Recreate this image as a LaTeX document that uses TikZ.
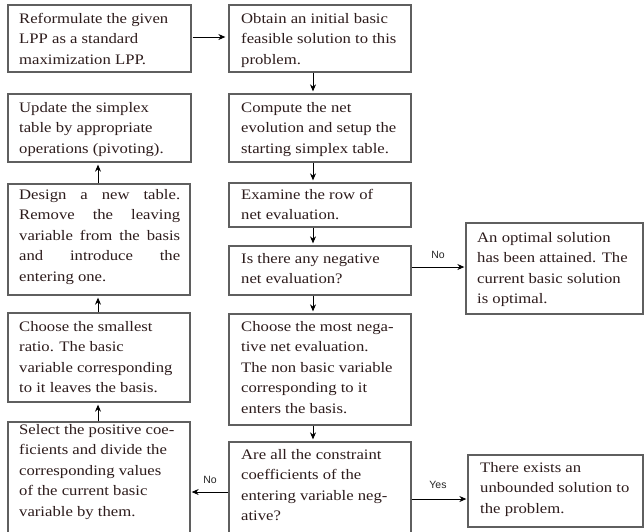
\documentclass[tikz,border=0pt]{standalone}
\usepackage{fontspec}
\setmainfont{Liberation Serif}[FakeStretch=1.15]
\newfontfamily\lblfont{Liberation Sans}
\usetikzlibrary{arrows.meta}
\definecolor{txtc}{RGB}{45,28,28}
\definecolor{boxc}{RGB}{95,95,95}
\newcommand\myjust[1]{\makebox[161pt][s]{#1}}
\newcommand\firstl{\rule{0pt}{14pt}}
\begin{document}
\begin{tikzpicture}[x=1pt,y=-1pt,
  box/.style={draw=boxc, line width=1.3pt, rectangle, inner sep=0pt},
  txt/.style={anchor=north west, inner sep=0pt, align=left, text=txtc, font=\fontsize{14.5}{20.5}\selectfont},
  arr/.style={-{Stealth[length=7pt,width=6pt]}, line width=1pt, black},
  lbl/.style={font=\lblfont\fontsize{10.5}{12}\selectfont, text=black!85}]
\useasboundingbox[fill=white] (0,0) rectangle (644,531);
% boxes
\node[box, minimum width=183pt, minimum height=67pt] (l1) at (99.5,38.5) {};
\node[box, minimum width=183pt, minimum height=68pt] (l2) at (99.5,128) {};
\node[box, minimum width=182pt, minimum height=111pt] (l3) at (99,239.5) {};
\node[box, minimum width=182pt, minimum height=89pt] (l4) at (99,357.5) {};
\node[box, minimum width=182pt, minimum height=123pt] (l5) at (99,483.5) {};
\node[box, minimum width=182pt, minimum height=67pt] (r1) at (320,38.5) {};
\node[box, minimum width=182pt, minimum height=68pt] (r2) at (320,128) {};
\node[box, minimum width=182pt, minimum height=44pt] (r3) at (320,205) {};
\node[box, minimum width=182pt, minimum height=49pt] (r4) at (320,270.5) {};
\node[box, minimum width=182pt, minimum height=111pt] (r5) at (320,369.5) {};
\node[box, minimum width=182pt, minimum height=103pt] (r6) at (320,493.5) {};
\node[box, minimum width=177pt, minimum height=91pt] (o1) at (554.5,268.5) {};
\node[box, minimum width=175pt, minimum height=72pt] (o2) at (555.5,491) {};
% texts
\node[txt] (l1t) at (19,9) {\firstl Reformulate the given\\LPP as a standard\\maximization LPP.};
\node[txt] (l2t) at (19,98) {\firstl Update the simplex\\table by appropriate\\operations (pivoting).};
\node[txt] (l3t) at (19,185) {\firstl\myjust{Design a new table.}\\\myjust{Remove the leaving}\\\myjust{variable from the basis}\\\myjust{and introduce the}\\entering one.};
\node[txt] (l4t) at (19,317) {\firstl Choose the smallest\\ratio. The basic\\variable corresponding\\to it leaves the basis.};
\node[txt] (l5t) at (19,420) {\firstl Select the positive coe-\\ficients and divide the\\corresponding values\\of the current basic\\variable by them.};
\node[txt] (r1t) at (241,9) {\firstl Obtain an initial basic\\feasible solution to this\\problem.};
\node[txt] (r2t) at (241,98) {\firstl Compute the net\\evolution and setup the\\starting simplex table.};
\node[txt] (r3t) at (241,185) {\firstl Examine the row of\\net evaluation.};
\node[txt] (r4t) at (241,249) {\firstl Is there any negative\\net evaluation?};
\node[txt] (r5t) at (241,317) {\firstl Choose the most nega-\\tive net evaluation.\\The non basic variable\\corresponding to it\\enters the basis.};
\node[txt] (r6t) at (241,445) {\firstl Are all the constraint\\coefficients of the\\entering variable neg-\\ative?};
\node[txt] (o1t) at (477,228) {\firstl An optimal solution\\has been attained. The\\current basic solution\\is optimal.};
\node[txt] (o2t) at (480,458) {\firstl There exists an\\unbounded solution to\\the problem.};
% labels
\node[lbl] (no1) at (438,255) {No};
\node[lbl] (yes) at (438,485) {Yes};
\node[lbl] (no2) at (210,480) {No};
% connectors
\coordinate (rc) at (313,0);
\coordinate (lc) at (98,0);
\coordinate (y1) at (0,37);
\coordinate (y2) at (0,267);
\coordinate (y3) at (0,499);
\coordinate (y4) at (0,492);
\draw[arr, shorten <=1pt, shorten >=3pt] (l1.east |- y1) -- (r1.west |- y1);
\draw[arr, shorten >=2pt] (r1.south -| rc) -- (r2.north -| rc);
\draw[arr, shorten >=2pt] (r2.south -| rc) -- (r3.north -| rc);
\draw[arr, shorten >=2pt] (r3.south -| rc) -- (r4.north -| rc);
\draw[arr, shorten >=2pt] (r4.south -| rc) -- (r5.north -| rc);
\draw[arr, shorten >=2pt] (r5.south -| rc) -- (r6.north -| rc);
\draw[arr, shorten >=2pt] (l5.north -| lc) -- (l4.south -| lc);
\draw[arr, shorten >=2pt] (l4.north -| lc) -- (l3.south -| lc);
\draw[arr, shorten >=2pt] (l3.north -| lc) -- (l2.south -| lc);
\draw[arr, shorten >=1pt] (r4.east |- y2) -- (o1.west |- y2);
\draw[arr, shorten >=1pt] (r6.east |- y3) -- (o2.west |- y3);
\draw[arr, shorten >=1pt] (r6.west |- y4) -- (l5.east |- y4);
\end{tikzpicture}
\end{document}
